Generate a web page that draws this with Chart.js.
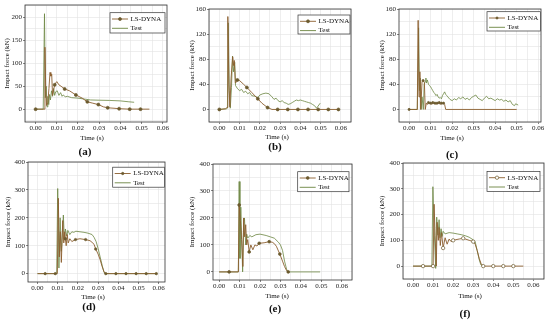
<!DOCTYPE html>
<html>
<head>
<meta charset="utf-8">
<script src="https://cdn.jsdelivr.net/npm/chart.js@4.4.1/dist/chart.umd.min.js"></script>
<style>
  html, body { margin: 0; padding: 0; background: #fff; }
  body { position: relative; width: 550px; height: 320px; overflow: hidden;
         font-family: "Liberation Serif", "Times New Roman", serif; color: #111; }
  canvas { position: absolute; }
  .txt { position: absolute; transform: translate(-50%, -50%); white-space: nowrap; line-height: 1; }
  .xt { font-size: 7px; }
  .pl { font-size: 11px; font-weight: bold; }
</style>
</head>
<body>
<script>
// valores: tiempo (s) y fuerza de impacto (kN)
const xMajor = [0, 0.01, 0.02, 0.03, 0.04, 0.05, 0.06];
const yMajorA = [0, 50, 100, 150, 200];
const yMajorBC = [0, 40, 80, 120, 160];
const yMajorDEF = [0, 100, 200, 300, 400];

// (a)
const a_ls_t = [0, 0.004, 0.0044, 0.0048, 0.0052, 0.0058, 0.0063, 0.0068, 0.0072, 0.0076, 0.008, 0.0085, 0.009, 0.0095, 0.010, 0.011, 0.012, 0.0137, 0.016, 0.019, 0.022, 0.0244, 0.027, 0.0296, 0.032, 0.034, 0.037, 0.0394, 0.0444, 0.0495, 0.0537];
const a_ls_f = [0, 0, 135, 40, 8, 15, 45, 80, 72, 76, 30, 42, 53, 57, 60, 53, 50, 44, 40, 31, 24, 16, 13, 10, 5, 3, 2, 1, 0, 0, 0];
const a_ls_mk = [0, 0.009, 0.0137, 0.019, 0.0244, 0.0296, 0.034, 0.0394, 0.0444, 0.0495];
const a_test_t = [0, 0.0036, 0.0042, 0.0046, 0.005, 0.0054, 0.0058, 0.0062, 0.0066, 0.007, 0.0075, 0.008, 0.0085, 0.009, 0.0095, 0.0102, 0.011, 0.0118, 0.0125, 0.013, 0.014, 0.015, 0.017, 0.02, 0.023, 0.026, 0.03, 0.035, 0.04, 0.044, 0.0465];
const a_test_f = [0, 0, 208, 25, 50, 5, 28, 10, 32, 20, 40, 28, 45, 30, 38, 40, 30, 36, 28, 31, 27, 28, 25, 24, 22, 20, 19.5, 19, 18, 16, 15];

// (b)
const b_ls_t = [0, 0.003, 0.0038, 0.0042, 0.0047, 0.0052, 0.0058, 0.0066, 0.007, 0.0074, 0.0079, 0.0085, 0.0089, 0.01, 0.012, 0.0136, 0.016, 0.019, 0.021, 0.0238, 0.026, 0.0288, 0.0338, 0.0388, 0.0438, 0.0488, 0.0538, 0.0588];
const b_ls_f = [0, 1, 3, 148, 40, 4, 50, 84, 70, 78, 42, 44, 47, 46, 40, 35, 27, 17, 10, 3, 0, 0, 0, 0, 0, 0, 0, 0];
const b_ls_mk = [0, 0.0089, 0.0136, 0.019, 0.0238, 0.0288, 0.0338, 0.0388, 0.0438, 0.0488, 0.0538, 0.0588];
const b_test_t = [0, 0.0035, 0.004, 0.0044, 0.0049, 0.0054, 0.006, 0.0065, 0.007, 0.0076, 0.008, 0.009, 0.01, 0.011, 0.012, 0.013, 0.014, 0.015, 0.016, 0.0175, 0.019, 0.02, 0.0215, 0.023, 0.0245, 0.026, 0.027, 0.028, 0.029, 0.03, 0.031, 0.032, 0.033, 0.034, 0.035, 0.036, 0.037, 0.038, 0.039, 0.04, 0.041, 0.042, 0.043, 0.044, 0.045, 0.046, 0.047, 0.048, 0.0498];
const b_test_f = [0, 1, 2, 138, 30, 2, 35, 85, 60, 75, 38, 33, 30, 32, 27, 29, 25, 27, 22, 21, 19, 23, 25, 26, 25, 20, 16, 18, 14, 12, 14, 11, 10, 8, 9, 11, 13, 15, 14, 15, 14, 13, 12, 11, 10, 8, 6, 2, 10];

// (c)
const c_ls_t = [0, 0.0038, 0.0042, 0.0046, 0.005, 0.0054, 0.006, 0.0065, 0.0071, 0.0075, 0.008, 0.0085, 0.009, 0.0095, 0.01, 0.0105, 0.011, 0.0115, 0.012, 0.0125, 0.013, 0.0135, 0.014, 0.0145, 0.015, 0.0155, 0.016, 0.0165, 0.017, 0.05];
const c_ls_f = [0, 0, 142, 20, 60, 0, 44, 46, 43, 0, 10, 8, 11, 9, 10, 8, 11, 9, 10, 8, 10, 9, 11, 8, 10, 9, 10, 8, 0, 0];
const c_ls_mk = [0, 0.0065, 0.009, 0.01, 0.011, 0.012, 0.013, 0.014, 0.015, 0.016];
const c_test_t = [0, 0.0038, 0.0044, 0.0048, 0.0052, 0.0056, 0.006, 0.0066, 0.007, 0.0075, 0.0078, 0.008, 0.0085, 0.009, 0.0095, 0.01, 0.0105, 0.011, 0.0115, 0.012, 0.0125, 0.013, 0.0135, 0.014, 0.0145, 0.015, 0.0155, 0.016, 0.0165, 0.017, 0.0175, 0.018, 0.019, 0.02, 0.021, 0.022, 0.023, 0.024, 0.025, 0.026, 0.027, 0.028, 0.029, 0.03, 0.031, 0.032, 0.033, 0.034, 0.035, 0.036, 0.037, 0.038, 0.039, 0.04, 0.041, 0.042, 0.043, 0.044, 0.045, 0.046, 0.047, 0.048, 0.049, 0.0495, 0.0507];
const c_test_f = [0, 0, 130, 30, 50, 0, 20, 0, 40, 45, 50, 42, 47, 40, 38, 36, 33, 30, 27, 25, 22, 24, 20, 18, 19, 17, 22, 25, 28, 24, 22, 20, 16, 14, 17, 15, 19, 17, 20, 16, 18, 15, 19, 21, 23, 18, 16, 14, 18, 21, 17, 18, 16, 14, 17, 15, 16, 13, 15, 12, 14, 8, 6, 9, 7];

// (d)
const d_ls_t = [0, 0.0038, 0.0088, 0.0098, 0.0103, 0.0108, 0.0113, 0.0118, 0.0125, 0.013, 0.0135, 0.0138, 0.0142, 0.0147, 0.0152, 0.016, 0.017, 0.0188, 0.021, 0.0238, 0.026, 0.027, 0.028, 0.0288, 0.03, 0.031, 0.032, 0.033, 0.0338, 0.0388, 0.0438, 0.0488, 0.0538, 0.0588];
const d_ls_f = [0, 0, 0, 0, 270, 60, 150, 40, 190, 110, 150, 125, 100, 140, 110, 125, 115, 122, 125, 122, 118, 112, 105, 88, 70, 50, 25, 5, 0, 0, 0, 0, 0, 0];
const d_ls_mk = [0.0038, 0.0088, 0.0138, 0.0188, 0.0238, 0.0288, 0.0338, 0.0388, 0.0438, 0.0488, 0.0538, 0.0588];
const d_test_t = [0, 0.0095, 0.01, 0.0106, 0.0112, 0.0118, 0.0128, 0.0133, 0.0138, 0.0145, 0.015, 0.016, 0.017, 0.018, 0.019, 0.021, 0.023, 0.025, 0.027, 0.028, 0.029, 0.03, 0.031, 0.032, 0.0328, 0.0333, 0.059];
const d_test_f = [0, 0, 305, 20, 200, 80, 210, 120, 160, 135, 155, 140, 150, 148, 152, 150, 148, 145, 140, 130, 115, 90, 60, 30, 8, 0, 0];

// (e)
const e_ls_t = [0, 0.0049, 0.0094, 0.0098, 0.0104, 0.011, 0.0116, 0.012, 0.0125, 0.013, 0.0135, 0.014, 0.0147, 0.0155, 0.0165, 0.0175, 0.0185, 0.0196, 0.022, 0.0245, 0.026, 0.027, 0.028, 0.0297, 0.031, 0.032, 0.033, 0.0338];
const e_ls_f = [0, 0, 0, 248, 190, 120, 20, 200, 130, 175, 100, 120, 74, 100, 82, 100, 96, 106, 108, 112, 110, 105, 95, 66, 40, 20, 5, 0];
const e_ls_mk = [0.0049, 0.0098, 0.0147, 0.0196, 0.0245, 0.0297, 0.0338];
const e_test_t = [0, 0.0094, 0.0098, 0.0102, 0.0106, 0.0115, 0.012, 0.0124, 0.013, 0.0135, 0.014, 0.015, 0.016, 0.018, 0.02, 0.023, 0.025, 0.027, 0.029, 0.030, 0.031, 0.032, 0.033, 0.0336, 0.0494];
const e_test_f = [0, 0, 335, 50, 240, 0, 180, 200, 100, 140, 125, 135, 130, 138, 140, 135, 130, 125, 110, 100, 80, 40, 10, 0, 0];

// (f)
const f_ls_t = [0, 0.005, 0.0095, 0.01, 0.0105, 0.011, 0.0116, 0.012, 0.0126, 0.013, 0.0136, 0.0142, 0.015, 0.0155, 0.016, 0.017, 0.018, 0.019, 0.02, 0.021, 0.023, 0.025, 0.028, 0.03, 0.031, 0.032, 0.033, 0.034, 0.035, 0.04, 0.045, 0.05, 0.055];
const f_ls_f = [0, 0, 0, 0, 240, 120, 0, 170, 100, 150, 80, 130, 70, 90, 110, 85, 105, 95, 100, 102, 105, 108, 100, 95, 85, 60, 30, 8, 0, 0, 0, 0, 0];
const f_ls_mk = [0.005, 0.01, 0.015, 0.02, 0.025, 0.03, 0.035, 0.04, 0.045, 0.05];
const f_test_t = [0, 0.0094, 0.0099, 0.0105, 0.0113, 0.0118, 0.0124, 0.013, 0.0135, 0.014, 0.0145, 0.015, 0.016, 0.018, 0.02, 0.022, 0.024, 0.026, 0.028, 0.030, 0.031, 0.032, 0.033, 0.0338, 0.0345, 0.0355];
const f_test_f = [0, 0, 308, 150, -9, 190, 120, 180, 110, 145, 115, 135, 125, 130, 128, 125, 122, 118, 112, 102, 94, 60, 25, 5, 0, 0];

// colores
const LS_COLOR = "#8b5e2e";
const TEST_COLOR = "#6b8540";
const MARK_COLOR = "#6b5a2e";

// paneles: area de trazado en px de la pagina [izq, arriba, der, abajo]
const panels = [
  { name: "(a)", ls: [a_ls_t, a_ls_f, a_ls_mk], test: [a_test_t, a_test_f], yMajor: yMajorA, ymin: -28, ymax: 227, xmin: -0.005, xmax: 0.062,
    plot: [25, 5, 167, 122], yTitleX: 7, xTitle: [92, 137.5], label: [85, 151], leg: [110, 12.7, 165, 33], hollow: false, mr: 1.5 },
  { name: "(b)", ls: [b_ls_t, b_ls_f, b_ls_mk], test: [b_test_t, b_test_f], yMajor: yMajorBC, ymin: -20, ymax: 160, xmin: -0.0051, xmax: 0.065,
    plot: [209, 9, 351, 122], yTitleX: 192, xTitle: [277, 137], label: [275, 146], leg: [298, 15, 350, 34], hollow: false, mr: 1.5 },
  { name: "(c)", ls: [c_ls_t, c_ls_f, c_ls_mk], test: [c_test_t, c_test_f], yMajor: yMajorBC, ymin: -20, ymax: 160, xmin: -0.0047, xmax: 0.0613,
    plot: [399, 9, 541, 122], yTitleX: 382, xTitle: [452, 138], label: [452, 154], leg: [487, 11.7, 540.5, 31], hollow: false, mr: 1.1 },
  { name: "(d)", ls: [d_ls_t, d_ls_f, d_ls_mk], test: [d_test_t, d_test_f], yMajor: yMajorDEF, ymin: -30, ymax: 400, xmin: -0.0047, xmax: 0.0631,
    plot: [28, 161.5, 165, 281], yTitleX: 8, xTitle: [93, 296.7], label: [89, 306], leg: [112.7, 166.7, 164.5, 186.7], hollow: false, mr: 1.2 },
  { name: "(e)", ls: [e_ls_t, e_ls_f, e_ls_mk], test: [e_test_t, e_test_f], yMajor: yMajorDEF, ymin: -30, ymax: 400, xmin: -0.003, xmax: 0.065,
    plot: [213, 164, 352, 280], yTitleX: 192, xTitle: [277, 296], label: [275, 308], leg: [297.7, 171.7, 349, 191.7], hollow: false, mr: 1.4 },
  { name: "(f)", ls: [f_ls_t, f_ls_f, f_ls_mk], test: [f_test_t, f_test_f], yMajor: yMajorDEF, ymin: -50, ymax: 400, xmin: -0.005, xmax: 0.0653,
    plot: [403, 163.3, 544, 279], yTitleX: 382, xTitle: [470, 296], label: [465, 313], leg: [487, 171.7, 540, 191.7], hollow: true, mr: 1.7 }
];

Chart.defaults.font.family = '"Liberation Serif", "Times New Roman", serif';
Chart.defaults.font.size = 7;
Chart.defaults.color = "#222";

const AX = 30, PT = 6, PR = 10, XB = 14;

function gridValues(min, max, step) {
  const out = [];
  for (let v = Math.ceil(min / step) * step; v <= max + 1e-12; v += step) {
    out.push(Math.round(v * 1e6) / 1e6);
  }
  return out;
}

function isMajor(v, list) {
  return list.some(function (m) { return Math.abs(m - v) < 1e-9; });
}

function addText(cls, txt, x, y) {
  const d = document.createElement("div");
  d.className = "txt " + cls;
  d.textContent = txt;
  d.style.left = x + "px";
  d.style.top = y + "px";
  document.body.appendChild(d);
}

// marco del area y leyenda con recuadro
function framePlugin(p, cl, ct) {
  return {
    id: "frameLegend",
    afterDatasetsDraw(chart) {
      const ctx = chart.ctx, a = chart.chartArea;
      ctx.save();
      ctx.strokeStyle = "#333";
      ctx.lineWidth = 0.8;
      ctx.strokeRect(a.left, a.top, a.right - a.left, a.bottom - a.top);

      const bx = p.leg[0] - cl, by = p.leg[1] - ct;
      const bw = p.leg[2] - p.leg[0], bh = p.leg[3] - p.leg[1];
      ctx.fillStyle = "#fff";
      ctx.fillRect(bx, by, bw, bh);
      ctx.lineWidth = 0.7;
      ctx.strokeRect(bx, by, bw, bh);

      const rows = [["LS-DYNA", LS_COLOR, true], ["Test", TEST_COLOR, false]];
      ctx.font = '7px "Liberation Serif", "Times New Roman", serif';
      ctx.textBaseline = "middle";
      rows.forEach(function (r, i) {
        const yy = by + 6.3 + i * 9.3;
        ctx.strokeStyle = r[1];
        ctx.lineWidth = 0.9;
        ctx.beginPath();
        ctx.moveTo(bx + 2, yy);
        ctx.lineTo(bx + 18, yy);
        ctx.stroke();
        if (r[2]) {
          ctx.beginPath();
          ctx.arc(bx + 10, yy, p.mr, 0, Math.PI * 2);
          ctx.fillStyle = p.hollow ? "#fff" : MARK_COLOR;
          ctx.fill();
          ctx.strokeStyle = MARK_COLOR;
          ctx.lineWidth = 0.7;
          ctx.stroke();
        }
        ctx.fillStyle = "#111";
        ctx.fillText(r[0], bx + 20.5, yy);
      });
      ctx.restore();
    }
  };
}

panels.forEach(function (p) {
  const l = p.plot[0], t = p.plot[1], r = p.plot[2], b = p.plot[3];
  const cl = l - AX, ct = t - PT;
  const cw = Math.round(r - l + AX + PR), ch = Math.round(b - t + PT + XB);

  const cv = document.createElement("canvas");
  cv.width = cw;
  cv.height = ch;
  cv.style.left = cl + "px";
  cv.style.top = ct + "px";
  cv.style.width = cw + "px";
  cv.style.height = ch + "px";
  document.body.appendChild(cv);

  const lsT = p.ls[0], lsF = p.ls[1], lsMk = p.ls[2];
  const xGrid = gridValues(p.xmin, p.xmax, 0.005);
  const yStep = (p.yMajor[1] - p.yMajor[0]) / 2;
  const yGrid = gridValues(p.ymin, p.ymax, yStep);

  new Chart(cv, {
    type: "line",
    data: {
      datasets: [
        {
          label: "LS-DYNA",
          data: lsT.map(function (x, i) { return { x: x, y: lsF[i] }; }),
          borderColor: LS_COLOR,
          borderWidth: 0.9,
          tension: 0,
          pointRadius: function (c) { return lsMk.includes(lsT[c.dataIndex]) ? p.mr : 0; },
          pointHoverRadius: 0,
          pointBackgroundColor: p.hollow ? "#fff" : MARK_COLOR,
          pointBorderColor: MARK_COLOR,
          pointBorderWidth: 0.7
        },
        {
          label: "Test",
          data: p.test[0].map(function (x, i) { return { x: x, y: p.test[1][i] }; }),
          borderColor: TEST_COLOR,
          borderWidth: 0.8,
          tension: 0,
          pointRadius: 0
        }
      ]
    },
    options: {
      responsive: false,
      animation: false,
      layout: { padding: { left: 0, top: PT, right: PR, bottom: 0 } },
      plugins: { legend: { display: false }, tooltip: { enabled: false } },
      scales: {
        x: {
          type: "linear",
          min: p.xmin,
          max: p.xmax,
          afterFit: function (s) { s.height = XB; },
          afterBuildTicks: function (s) { s.ticks = xGrid.map(function (v) { return { value: v }; }); },
          ticks: {
            autoSkip: false,
            maxRotation: 0,
            padding: 0,
            callback: function (v) { return isMajor(v, xMajor) ? v.toFixed(2) : ""; }
          },
          grid: {
            color: "#e3e3e3",
            lineWidth: 0.6,
            tickLength: 2,
            tickColor: function (c) { return c.tick && isMajor(c.tick.value, xMajor) ? "#333" : "rgba(0,0,0,0)"; }
          },
          border: { display: false }
        },
        y: {
          type: "linear",
          min: p.ymin,
          max: p.ymax,
          afterFit: function (s) { s.width = AX; },
          afterBuildTicks: function (s) { s.ticks = yGrid.map(function (v) { return { value: v }; }); },
          ticks: {
            autoSkip: false,
            padding: 1,
            callback: function (v) { return isMajor(v, p.yMajor) ? String(v) : ""; }
          },
          grid: {
            color: "#e3e3e3",
            lineWidth: 0.6,
            tickLength: 2,
            tickColor: function (c) { return c.tick && isMajor(c.tick.value, p.yMajor) ? "#333" : "rgba(0,0,0,0)"; }
          },
          border: { display: false },
          title: {
            display: true,
            text: "Impact force (kN)",
            font: { size: 7 },
            color: "#111",
            padding: { top: Math.max(0, p.yTitleX - cl - 4.2), bottom: 0 }
          }
        }
      }
    },
    plugins: [framePlugin(p, cl, ct)]
  });

  addText("xt", "Time (s)", p.xTitle[0], p.xTitle[1]);
  addText("pl", p.name, p.label[0], p.label[1]);
});
</script>
</body>
</html>
